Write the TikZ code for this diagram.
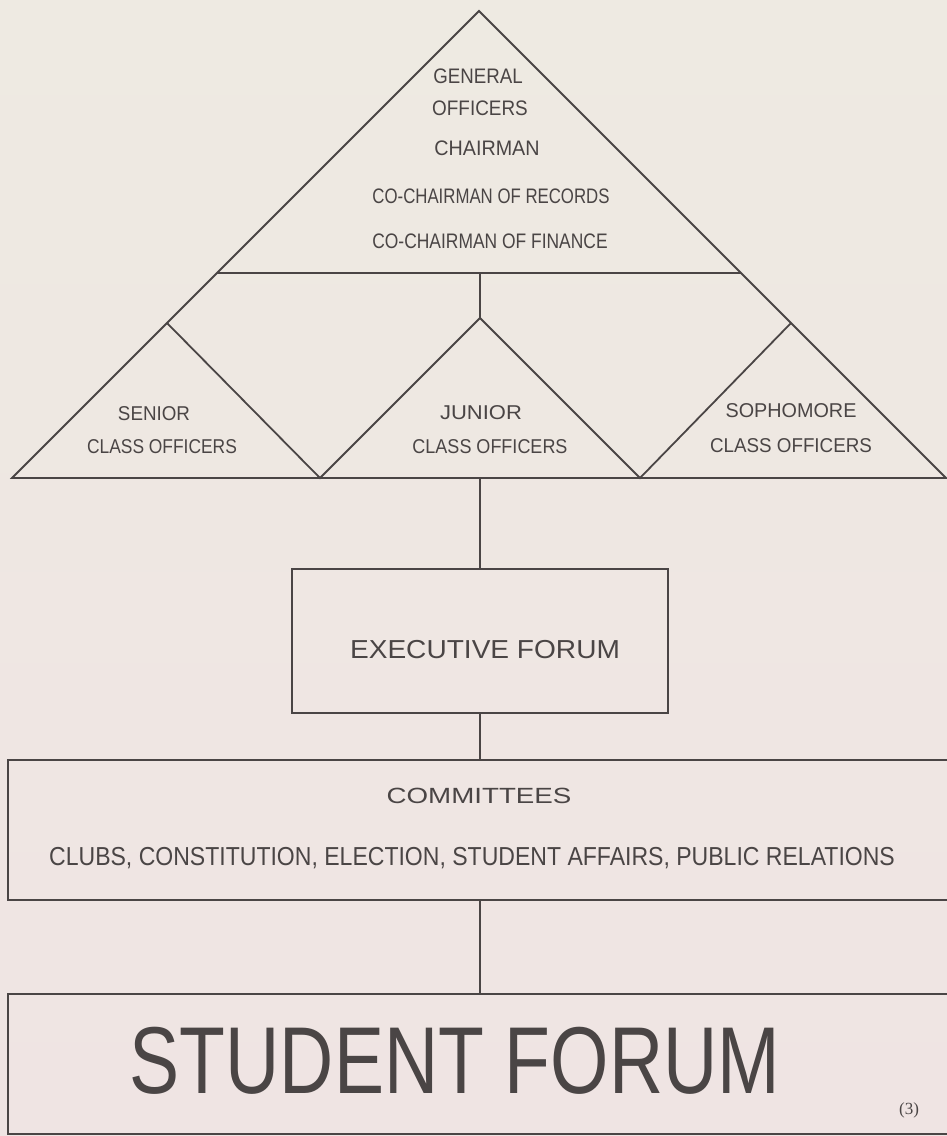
\documentclass[tikz,border=0pt]{standalone}
\usepackage{fontspec}
\usepackage{graphicx}
\setmainfont{Liberation Sans}
\newfontfamily\numfont{Liberation Serif}
\definecolor{ink}{HTML}{4A4545}
\definecolor{papertop}{HTML}{EEEAE2}
\definecolor{paperbot}{HTML}{EFE4E3}
\newcommand\hand[3]{\scalebox{#1}[1]{\fontsize{#2}{#2}\selectfont #3}}
\tikzset{
  ln/.style={draw=ink, line width=1.8pt, line join=miter},
  box/.style={ln, rectangle, inner sep=0pt},
  lbl/.style={text=ink, inner sep=0pt, anchor=base},
}
\begin{document}
\begin{tikzpicture}[x=1pt,y=-1pt]
\useasboundingbox (0,0) rectangle (947,1136);
\clip (0,0) rectangle (947,1136);
\shade[top color=papertop, bottom color=paperbot] (0,0) rectangle (947,1136);

% pyramid geometry
\coordinate (apex) at (479,11);
\coordinate (bl) at (12,478);
\coordinate (br) at (946,478);
\coordinate (hl) at (217,273);
\coordinate (hr) at (741,273);
\coordinate (hmid) at (480,273);
\coordinate (japex) at (480,318);
\coordinate (jl) at (320,478);
\coordinate (jr) at (640,478);
\coordinate (sapex) at (167,323);
\coordinate (papex) at (791,323);
\coordinate (bmid) at (480,478);

\draw[ln] (bl) -- (apex) -- (br) -- cycle;
\draw[ln] (hl) -- (hr);
\draw[ln] (hmid) -- (japex);
\draw[ln] (sapex) -- (jl) -- (japex) -- (jr) -- (papex);

% texts in pyramid
\node[lbl] (t1) at (478,83) {\hand{0.89}{21}{GENERAL}};
\node[lbl] (t2) at (480,115) {\hand{0.90}{21}{OFFICERS}};
\node[lbl] (t3) at (487,155) {\hand{0.94}{21}{CHAIRMAN}};
\node[lbl] (t4) at (491,203) {\hand{0.80}{21}{CO-CHAIRMAN OF RECORDS}};
\node[lbl] (t5) at (490,248) {\hand{0.83}{21}{CO-CHAIRMAN OF FINANCE}};

\node[lbl] (s1) at (154,420) {\hand{0.94}{20}{SENIOR}};
\node[lbl] (s2) at (162,453) {\hand{0.87}{20}{CLASS OFFICERS}};
\node[lbl] (j1) at (481,419) {\hand{1.1}{20}{JUNIOR}};
\node[lbl] (j2) at (490,453) {\hand{0.90}{20}{CLASS OFFICERS}};
\node[lbl] (p1) at (791,417) {\hand{0.99}{20}{SOPHOMORE}};
\node[lbl] (p2) at (791,452) {\hand{0.94}{20}{CLASS OFFICERS}};

% boxes
\node[box, minimum width=376pt, minimum height=144pt] (exec) at (480,641) {};
\node[lbl] (et) at (485,658) {\hand{1.08}{26}{EXECUTIVE FORUM}};

\node[box, minimum width=960pt, minimum height=140pt] (comm) at (488,830) {};
\node[lbl] (ct1) at (479,803) {\hand{1.26}{22}{COMMITTEES}};
\node[lbl] (ct2) at (472,865) {\hand{0.886}{26}{CLUBS, CONSTITUTION, ELECTION, STUDENT AFFAIRS, PUBLIC RELATIONS}};

\node[box, minimum width=960pt, minimum height=140pt] (stud) at (488,1064) {};
\node[lbl] (st) at (455,1093) {\hand{0.79}{95}{STUDENT FORUM}};
\node[lbl] (num) at (909,1114) {\numfont\fontsize{17}{17}\selectfont (3)};

% connectors
\draw[ln] (bmid) -- (bmid |- exec.north);
\draw[ln] (exec.south) -- (exec.south |- comm.north);
\draw[ln] (exec.south |- comm.south) -- (exec.south |- stud.north);
\end{tikzpicture}
\end{document}
